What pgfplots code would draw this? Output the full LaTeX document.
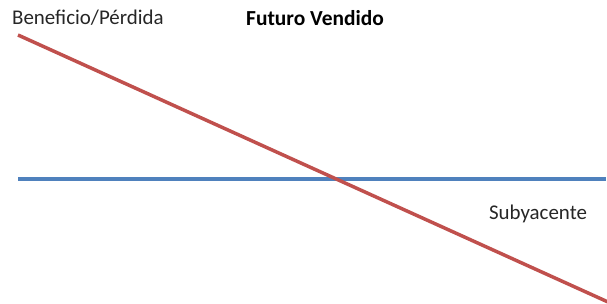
\documentclass[border=0pt]{standalone}
\usepackage{pgfplots}
\pgfplotsset{compat=1.18}
\usepackage{fontspec}
\setmainfont{Carlito}
\definecolor{offblue}{HTML}{4F81BD}
\definecolor{offred}{HTML}{C0504D}
\begin{document}
\begin{tikzpicture}
\begin{axis}[
  scale only axis,
  width=607bp, height=304bp,
  xmin=0, xmax=607, ymin=0, ymax=304,
  hide axis,
  clip=true,
]
\addplot[offblue, line width=3.5bp] coordinates {(18,125) (606,125)};
\addplot[offred, line width=3.5bp] coordinates {(18,269) (608,2)};
\node[anchor=base west, inner sep=0pt, font=\fontsize{21}{24}\selectfont, text=black!85] at (axis cs:12,279) {Beneficio/Pérdida};
\node[anchor=base, inner sep=0pt, font=\fontsize{21.5}{24}\selectfont\bfseries] at (axis cs:315,278) {Futuro Vendido};
\node[anchor=base, inner sep=0pt, font=\fontsize{21}{24}\selectfont, text=black!85] at (axis cs:538,84) {Subyacente};
\end{axis}
\pgfresetboundingbox
\useasboundingbox (current axis.south west) rectangle (current axis.north east);
\end{tikzpicture}
\end{document}
